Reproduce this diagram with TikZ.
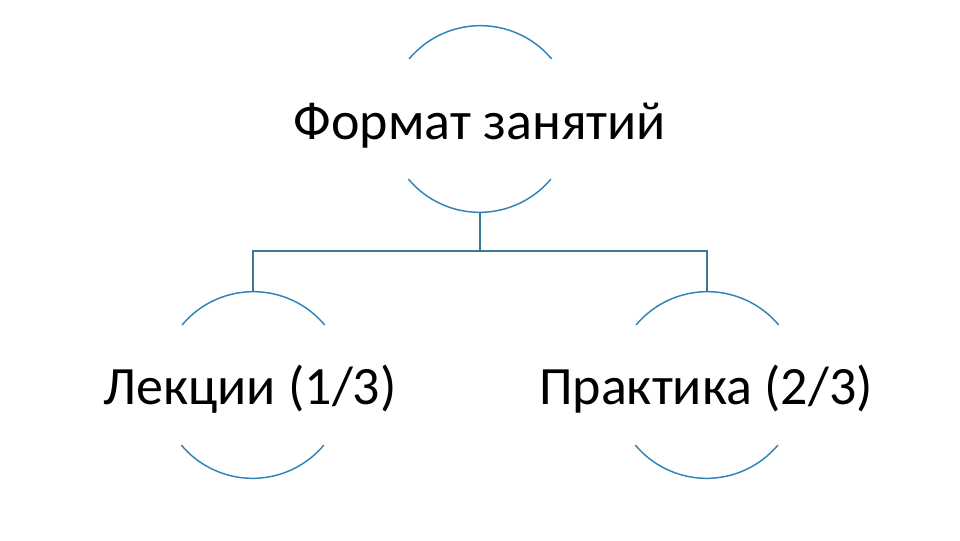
\documentclass[tikz,border=0pt]{standalone}
\usepackage{fontspec}
\setmainfont{Carlito}
\definecolor{arcblue}{RGB}{46,132,184}
\definecolor{linkblue}{RGB}{58,122,148}
\begin{document}
\begin{tikzpicture}[x=0.75pt,y=-0.75pt,line width=0.75pt,
  every node/.style={font=\fontsize{40.5}{44}\selectfont,inner sep=0pt},
  ring/.style={circle,minimum size=139.5pt,draw=none},
  lbl/.style={anchor=base},
  rim/.style={arcblue,line width=1.1pt},
  link/.style={linkblue,line width=0.8pt}]
\useasboundingbox (0,0) rectangle (960,540);
\node[ring] (fmt) at (480,119) {};
\node[ring] (lec) at (253,385) {};
\node[ring] (prak) at (707,385) {};
\coordinate (bus) at (480,251);
\node[lbl] (fmtT) at (480,139) {Формат занятий};
\node[lbl] (lecT) at (250,404) {Лекции (1/3)};
\node[lbl] (prakT) at (706,404) {Практика (2/3)};
\foreach \n in {fmt,lec,prak}{
  \draw[rim] (\n.40) arc[start angle=40,end angle=140,radius=69.75pt];
  \draw[rim] (\n.220) arc[start angle=220,end angle=320,radius=69.75pt];
}
\draw[link] (fmt.south) -- (bus);
\draw[link] (lec.north) |- (bus) -| (prak.north);
\end{tikzpicture}
\end{document}
